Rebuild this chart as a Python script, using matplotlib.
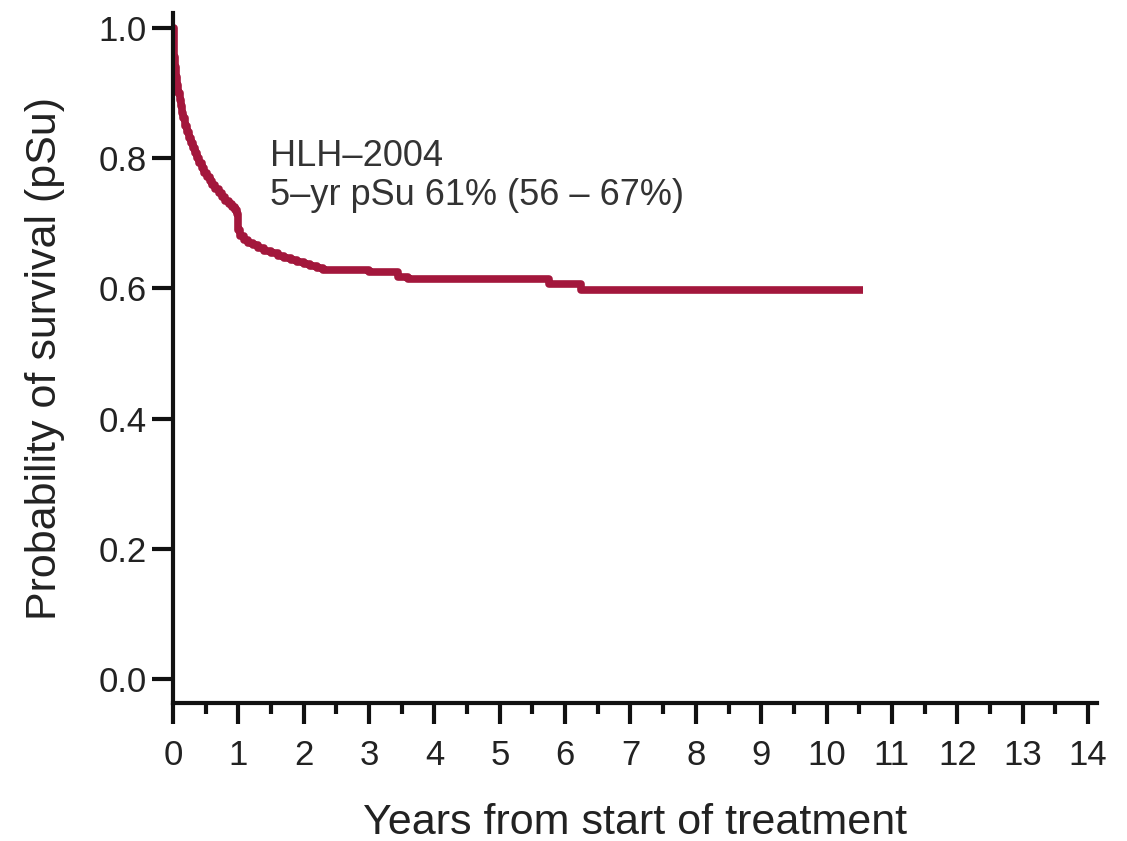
import numpy as np
import matplotlib.pyplot as plt
from matplotlib.ticker import MultipleLocator

# Kaplan-Meier estimate, HLH-2004 cohort
years = [0, 0.01, 0.02, 0.03, 0.045, 0.06, 0.08, 0.1, 0.12, 0.14,
         0.16, 0.19, 0.22, 0.25, 0.28, 0.31, 0.34, 0.37, 0.4, 0.44,
         0.48, 0.52, 0.56, 0.6, 0.65, 0.7, 0.75, 0.8, 0.85, 0.9,
         0.95, 0.98, 1.0, 1.03, 1.08, 1.15, 1.22, 1.3, 1.4, 1.5,
         1.6, 1.7, 1.8, 1.9, 2.0, 2.1, 2.2, 2.3, 3.0, 3.45,
         3.6, 5.76, 6.25, 10.55]
survival = [1.0, 0.975, 0.955, 0.94, 0.925, 0.912, 0.9, 0.89, 0.88, 0.87,
            0.861, 0.85, 0.84, 0.831, 0.823, 0.815, 0.808, 0.8, 0.793, 0.785,
            0.778, 0.771, 0.765, 0.759, 0.752, 0.746, 0.741, 0.735, 0.73, 0.725,
            0.72, 0.714, 0.69, 0.68, 0.675, 0.67, 0.666, 0.662, 0.658, 0.654,
            0.65, 0.647, 0.644, 0.641, 0.638, 0.635, 0.632, 0.629, 0.625, 0.618,
            0.614, 0.606, 0.598, 0.598]

plt.rcParams['font.family'] = ['Liberation Sans', 'DejaVu Sans']

fig = plt.figure(figsize=(11.27, 8.41), dpi=100)
ax = fig.add_axes([0.1535, 0.164, 0.82, 0.8205])

ax.step(years, survival, where='post', color='#a3173c', lw=5.5,
        solid_joinstyle='round', solid_capstyle='butt')

ax.set_xlim(0, 14.14)
ax.set_ylim(-0.037, 1.023)
ax.xaxis.set_major_locator(MultipleLocator(1))
ax.xaxis.set_minor_locator(MultipleLocator(0.5))
ax.set_yticks([0.0, 0.2, 0.4, 0.6, 0.8, 1.0])
ax.set_yticklabels(['0.0', '0.2', '0.4', '0.6', '0.8', '1.0'])

for s in ['top', 'right']:
    ax.spines[s].set_visible(False)
for s in ['left', 'bottom']:
    ax.spines[s].set_linewidth(3)
    ax.spines[s].set_color('#111111')

ax.tick_params(which='major', length=15, width=3, color='#111111',
               labelsize=25, labelcolor='#222222')
ax.tick_params(axis='x', which='major', pad=11)
ax.tick_params(axis='y', which='major', pad=4)
ax.tick_params(which='minor', length=8, width=3, color='#111111')
ax.tick_params(axis='y', which='minor', left=False)

ax.set_xlabel('Years from start of treatment', fontsize=31,
              color='#222222', labelpad=22)
ax.set_ylabel('Probability of survival (pSu)', fontsize=31,
              color='#222222', labelpad=24)

ax.text(1.48, 0.773, 'HLH\u20132004\n5\u2013yr pSu 61% (56 \u2013 67%)',
        fontsize=26, color='#333333', va='center', ha='left',
        linespacing=1.15)

fig.savefig('out.png', dpi=100)
